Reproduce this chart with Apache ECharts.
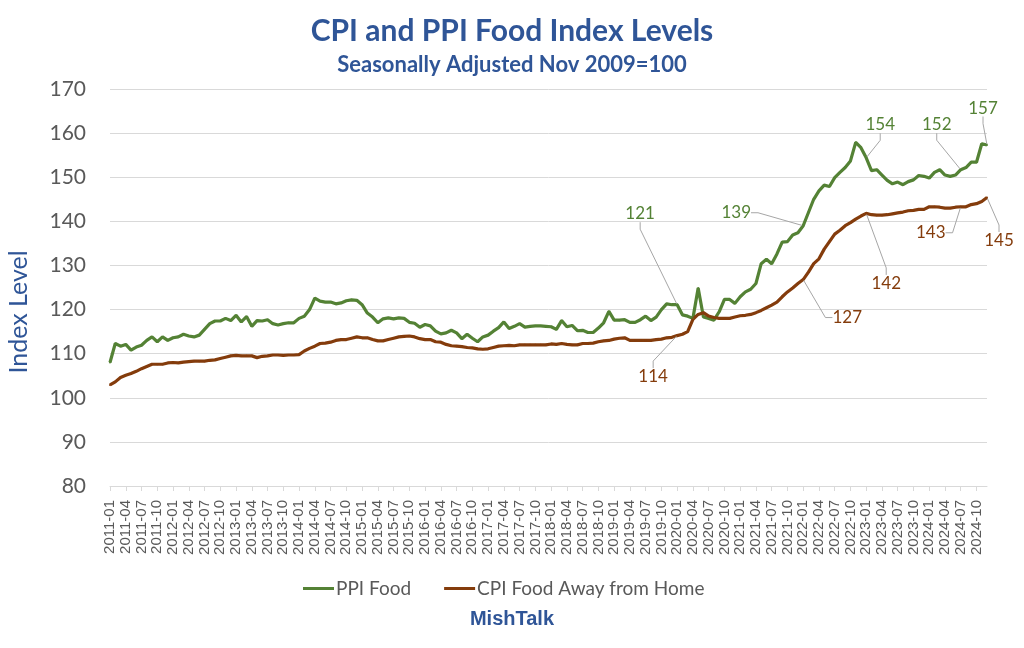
<!DOCTYPE html>
<html>
<head>
<meta charset="utf-8">
<script src="https://cdn.jsdelivr.net/npm/echarts@6/dist/echarts.min.js"></script>
<style>html,body{margin:0;padding:0;background:#fff}#c{width:1024px;height:648px}</style>
</head>
<body>
<div id="c"></div>
<script>
// Months Jan 2011 .. Dec 2024
const months = [];
for (let y = 2011; y <= 2024; y++) for (let m = 1; m <= 12; m++) months.push(y + '-' + (m < 10 ? '0' + m : m));

const ppiFood = [
  108.0,112.3,111.7,112.1,110.8,111.5,111.9,113.0,113.8,112.7,113.8,113.0,113.6,113.8,114.4,114.0,113.8,114.2,115.5,116.8,117.4,117.4,118.0,117.5,118.7,117.2,118.4,116.2,
  117.5,117.4,117.7,116.8,116.5,116.8,117.0,117.0,118.0,118.5,120.0,122.6,121.9,121.7,121.7,121.3,121.5,122.0,122.2,122.1,121.1,119.2,118.3,117.0,117.9,118.1,117.9,118.1,
  118.0,117.1,116.9,116.0,116.6,116.3,115.1,114.5,114.7,115.3,114.7,113.4,114.4,113.5,112.7,113.8,114.2,115.1,115.9,117.2,115.7,116.2,116.8,116.0,116.2,116.3,116.3,
  116.2,116.1,115.5,117.5,116.1,116.4,115.2,115.3,114.8,114.8,115.8,117.0,119.6,117.6,117.6,117.7,117.1,117.1,117.7,118.5,117.5,118.3,120.0,121.3,121.1,121.1,118.8,118.5,
  118.0,124.9,118.3,118.0,117.6,119.5,122.3,122.3,121.4,122.9,124.0,124.6,125.9,130.4,131.4,130.4,132.6,135.3,135.4,136.9,137.4,139.0,142.0,145.0,146.9,148.2,147.9,149.9,
  151.1,152.2,153.7,157.9,156.7,154.4,151.5,151.7,150.5,149.3,148.5,148.9,148.3,149.0,149.4,150.4,150.2,149.8,151.1,151.7,150.5,150.2,150.5,151.7,152.2,153.4,153.4,157.6,157.3
];
const cpiFoodAway = [
  102.9,103.6,104.6,105.1,105.5,106.0,106.6,107.1,107.6,107.6,107.6,107.9,108.0,107.9,108.1,108.2,108.3,108.3,108.3,108.5,108.6,108.9,109.2,109.5,109.6,109.5,109.5,109.5,
  109.1,109.4,109.5,109.7,109.7,109.6,109.7,109.7,109.8,110.6,111.2,111.7,112.3,112.4,112.6,113.0,113.2,113.2,113.5,113.8,113.6,113.6,113.2,112.9,112.9,113.2,113.5,113.8,
  113.9,114.0,113.8,113.4,113.2,113.2,112.7,112.6,112.1,111.8,111.7,111.6,111.4,111.3,111.1,111.0,111.1,111.4,111.7,111.8,111.9,111.8,112.0,112.0,112.0,112.0,112.0,
  112.0,112.2,112.1,112.3,112.1,112.0,112.0,112.3,112.3,112.4,112.7,112.9,113.0,113.3,113.5,113.6,113.0,113.0,113.0,113.0,113.0,113.2,113.3,113.6,113.7,114.1,114.4,115.0,
  117.8,118.9,119.3,118.5,118.2,118.0,118.0,118.0,118.3,118.6,118.7,118.9,119.3,119.8,120.4,121.0,121.7,122.9,124.0,124.9,125.9,126.8,128.5,130.4,131.5,133.7,135.4,137.1,
  138.0,139.0,139.7,140.5,141.2,141.8,141.5,141.4,141.4,141.5,141.7,141.9,142.1,142.4,142.5,142.7,142.7,143.3,143.3,143.2,143.0,143.0,143.2,143.3,143.3,143.8,144.0,144.5,145.4
];
const yTicks = [80, 90, 100, 110, 120, 130, 140, 150, 160, 170];

// annotated points: month -> label offset
const ppiNotes = {'2020-01': [-37, -91], '2022-01': [-67, -13], '2023-01': [14, -33], '2024-07': [-24, -45], '2024-12': [-4, -37]};
const cpiNotes = {'2020-01': [-24, 41], '2022-01': [44, 38], '2023-01': [20, 70], '2024-07': [-30, 26], '2024-12': [12, 43]};

const GREEN = '#548235', BROWN = '#843c0c', GREY = '#595959', BLUE = '#2f5597';

function buildData(vals, notes) {
  return vals.map((v, i) => notes[months[i]] ? {value: v, label: {show: true}} : v);
}
function layoutFn(notes) {
  return function (p) {
    const n = notes[months[p.dataIndex]];
    return n ? {dx: n[0], dy: n[1]} : {};
  };
}

const chart = echarts.init(document.getElementById('c'), null, {renderer: 'canvas'});
chart.setOption({
  animation: false,
  backgroundColor: '#ffffff',
  title: [
    {text: 'CPI and PPI Food Index Levels', left: 'center', top: 11,
     textStyle: {fontFamily: 'Lato', fontWeight: 'bold', fontSize: 30, color: BLUE}},
    {text: 'Seasonally Adjusted Nov 2009=100', left: 'center', top: 49,
     textStyle: {fontFamily: 'Lato', fontWeight: 'bold', fontSize: 22, color: BLUE}},
    {text: 'MishTalk', left: 'center', top: 604,
     textStyle: {fontFamily: 'Liberation Sans', fontWeight: 'bold', fontSize: 20, color: BLUE}}
  ],
  graphic: [{
    type: 'text', x: 19, y: 312, rotation: Math.PI / 2,
    style: {text: 'Index Level', fontFamily: 'Lato', fontSize: 25, fill: BLUE, align: 'center', verticalAlign: 'middle'}
  }],
  legend: {
    left: 298, top: 574, itemWidth: 31, itemHeight: 3, itemGap: 33, icon: 'rect',
    textStyle: {fontFamily: 'Lato', fontSize: 19, color: GREY, padding: [0, 0, 0, -3]},
    data: [{name: 'PPI Food', itemStyle: {color: GREEN}}, {name: 'CPI Food Away from Home', itemStyle: {color: BROWN}}]
  },
  grid: {left: 110, right: 37, top: 89, bottom: 162, containLabel: false},
  xAxis: {
    type: 'category', data: months, boundaryGap: false,
    axisLine: {lineStyle: {color: '#d9d9d9', width: 1}},
    axisTick: {show: true, interval: 2, length: 5, lineStyle: {color: '#d9d9d9'}},
    axisLabel: {interval: 2, rotate: 90, fontFamily: 'Liberation Sans', fontSize: 15, color: GREY, margin: 14}
  },
  yAxis: {
    type: 'value', min: yTicks[0], max: yTicks[yTicks.length - 1], interval: 10,
    axisLine: {show: false}, axisTick: {show: false},
    splitLine: {lineStyle: {color: '#d9d9d9', width: 1}},
    axisLabel: {fontFamily: 'Lato', fontSize: 21, color: GREY, margin: 24}
  },
  series: [
    {
      name: 'PPI Food', type: 'line', data: buildData(ppiFood, ppiNotes),
      color: GREEN, lineStyle: {width: 3.2, color: GREEN}, itemStyle: {color: GREEN, borderWidth: 0},
      symbol: 'circle', symbolSize: 2, showSymbol: true, showAllSymbol: true,
      label: {show: false, position: 'inside', formatter: p => Math.round(p.value), padding: [2, 3],
              fontFamily: 'Lato', fontSize: 17, color: GREEN},
      labelLine: {show: true, length2: 7, lineStyle: {color: '#a6a6a6', width: 1}},
      labelLayout: layoutFn(ppiNotes),
      emphasis: {disabled: true}, silent: true
    },
    {
      name: 'CPI Food Away from Home', type: 'line', data: buildData(cpiFoodAway, cpiNotes),
      color: BROWN, lineStyle: {width: 3.2, color: BROWN}, itemStyle: {color: BROWN, borderWidth: 0},
      symbol: 'circle', symbolSize: 2, showSymbol: true, showAllSymbol: true,
      label: {show: false, position: 'inside', formatter: p => Math.round(p.value), padding: [2, 3],
              fontFamily: 'Lato', fontSize: 17, color: BROWN},
      labelLine: {show: true, length2: 7, lineStyle: {color: '#a6a6a6', width: 1}},
      labelLayout: layoutFn(cpiNotes),
      emphasis: {disabled: true}, silent: true
    }
  ]
});
</script>
</body>
</html>
